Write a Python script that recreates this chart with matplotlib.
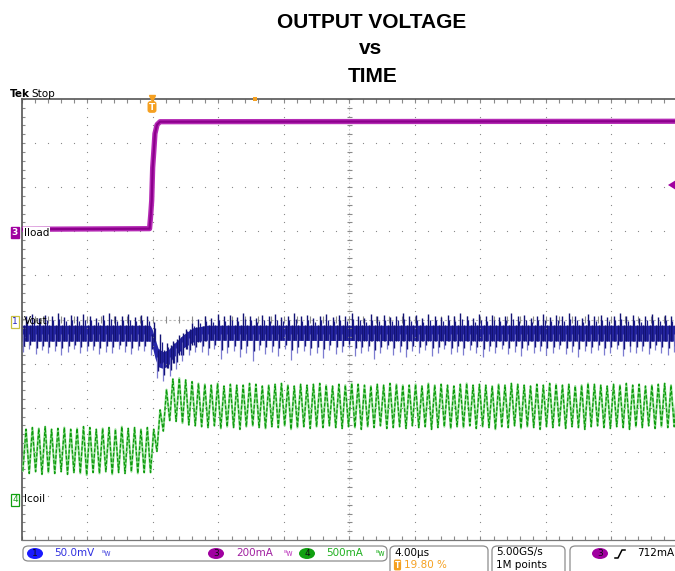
import numpy as np
import matplotlib.pyplot as plt
from matplotlib.patches import FancyBboxPatch, Ellipse

# scope settings
time_div_us = 4.0
trig_pos_pct = 19.80
ch1_scale_mv = 50.0
ch3_scale_a = 0.2
ch4_scale_a = 0.5
ch1_pos_div = -0.05
ch3_pos_div = 1.97
ch4_pos_div = -4.09

# Iload (ch3), amps
iload_t_us = [0.0, 7.79, 7.86, 7.92, 7.98, 8.05, 8.12, 8.25, 8.43, 40.0]
iload_a = [0.015, 0.018, 0.08, 0.145, 0.295, 0.37, 0.449, 0.49, 0.503, 0.505]

# Icoil (ch4), one valley and one peak per switching cycle, amps
sw_period_us = 0.39
sw_first_us = 0.05
icoil_valley_a = [
    0.33, 0.30, 0.32, 0.29, 0.31, 0.30, 0.32, 0.29, 0.31, 0.30,
    0.28, 0.31, 0.30, 0.32, 0.29, 0.31, 0.30, 0.32, 0.30, 0.31,
    0.31, 0.55, 0.78, 0.90, 0.89, 0.87, 0.85, 0.84,
    0.83, 0.82, 0.84, 0.81, 0.83, 0.82, 0.80, 0.83, 0.84, 0.82,
    0.81, 0.83, 0.82, 0.84, 0.80, 0.82, 0.83, 0.81, 0.83, 0.82,
    0.84, 0.82, 0.81, 0.83, 0.82, 0.80, 0.83, 0.82, 0.84, 0.81,
    0.82, 0.83, 0.81, 0.84, 0.82, 0.83, 0.80, 0.82, 0.83, 0.81,
    0.83, 0.82, 0.84, 0.81, 0.83, 0.82, 0.80, 0.83, 0.82, 0.84,
    0.81, 0.83, 0.82, 0.80, 0.83, 0.82, 0.84, 0.81, 0.83, 0.82,
    0.80, 0.83, 0.84, 0.82, 0.81, 0.83, 0.82, 0.80, 0.83, 0.82,
    0.84, 0.81, 0.83, 0.82, 0.83]
icoil_peak_a = [
    0.80, 0.82, 0.81, 0.83, 0.80, 0.81, 0.82, 0.80, 0.81, 0.83,
    0.82, 0.80, 0.81, 0.82, 0.80, 0.83, 0.81, 0.82, 0.80, 0.82,
    0.80, 1.02, 1.25, 1.37, 1.38, 1.36, 1.34, 1.32,
    1.31, 1.30, 1.32, 1.29, 1.31, 1.30, 1.30, 1.32, 1.31, 1.29,
    1.30, 1.31, 1.32, 1.30, 1.29, 1.31, 1.30, 1.31, 1.32, 1.30,
    1.29, 1.31, 1.30, 1.32, 1.31, 1.30, 1.29, 1.31, 1.30, 1.32,
    1.31, 1.30, 1.30, 1.31, 1.29, 1.32, 1.30, 1.31, 1.30, 1.29,
    1.31, 1.32, 1.30, 1.31, 1.30, 1.29, 1.31, 1.30, 1.32, 1.31,
    1.30, 1.29, 1.31, 1.30, 1.32, 1.31, 1.30, 1.31, 1.29, 1.30,
    1.32, 1.31, 1.30, 1.29, 1.31, 1.30, 1.32, 1.30, 1.31, 1.29,
    1.30, 1.31, 1.32, 1.30, 1.31]

# Vout (ch1), noise band and switching spikes, mV
vout_band_t_us = [0.0, 7.82, 7.94, 8.12, 8.31, 8.61, 8.92, 9.22, 9.83, 10.44, 11.30, 40.0]
vout_band_hi_mv = [-4, -4, -8, -19, -30, -34, -32, -26, -15, -7, -4, -4]
vout_band_lo_mv = [-22, -22, -27, -41, -51, -53, -50, -41, -30, -23, -21, -22]
vout_spike_up_mv = [
    6, 9, 4, 8, 7, 10, 5, 8, 6, 9, 7, 4, 8, 10, 6, 7, 9, 5, 8, 6,
    0, -14, -24, -22, -15, -8, -2, 3,
    7, 4, 9, 6, 8, 5, 10, 7, 4, 8,
    6, 9, 5, 7, 10, 6, 8, 4, 7, 9,
    5, 8, 6, 10, 7, 4, 9, 6, 8, 5,
    7, 10, 6, 8, 4, 9, 7, 5, 8, 6,
    10, 7, 4, 9, 6, 8, 5, 7, 10, 6,
    8, 4, 7, 9, 5, 8, 6, 10, 7, 4,
    9, 6, 8, 5, 7, 10, 6, 8, 4, 7,
    9, 5, 8, 6, 7]
vout_spike_dn_mv = [
    -34, -31, -37, -32, -35, -33, -38, -34, -31, -36,
    -33, -32, -37, -34, -35, -31, -34, -37, -32, -33,
    -38, -64, -67, -62, -54, -45, -38, -34,
    -34, -38, -31, -42, -36, -33, -40, -35, -45, -32,
    -37, -34, -39, -31, -43, -36, -33, -38, -35, -41,
    -32, -37, -34, -30, -39, -36, -33, -42, -35, -31,
    -38, -34, -40, -33, -36, -32, -39, -35, -31, -37,
    -34, -38, -32, -36, -40, -33, -35, -31, -37, -34,
    -39, -32, -36, -33, -38, -35, -31, -37, -34, -40,
    -33, -36, -32, -38, -35, -31, -39, -34, -36, -33,
    -37, -32, -35, -38, -34]

W, H = 675, 571
fig = plt.figure(figsize=(W / 100, H / 100), dpi=100)
ax = fig.add_axes([22 / W, 1 - 540 / H, 655 / W, 441 / H])
t_end = 10 * time_div_us
ax.set_xlim(0, t_end)
ax.set_ylim(-5, 5)
ax.axis("off")


def fx(px):
    return px / W


def fy(py):
    return 1 - py / H


def us_at(px):
    return (px - 22) / 655 * t_end


# graticule
dot = dict(ls="none", marker="s", ms=0.8, mew=0, color="#8a8a8a")
ydots = np.arange(-5, 5.01, 0.2)
xdots = np.arange(0, t_end + 0.01, time_div_us / 5)
for k in range(1, 10):
    if k != 5:
        ax.plot(np.full_like(ydots, k * time_div_us), ydots, **dot)
for k in range(-4, 5):
    if k != 0:
        ax.plot(xdots, np.full_like(xdots, k), **dot)
ax.plot([0, t_end], [0, 0], color="#b8b8b8", lw=0.8, ls=(0, (2, 2)))
ax.plot([t_end / 2, t_end / 2], [-5, 5], color="#b8b8b8", lw=0.8, ls=(0, (1, 2)))
ax.hlines(ydots, t_end / 2 - 0.16, t_end / 2 + 0.16, color="#8a8a8a", lw=0.8)
ax.vlines(xdots, -0.07, 0.07, color="#8a8a8a", lw=0.8)
ax.vlines(xdots, 5 - 0.08, 5, color="#8a8a8a", lw=0.8)
ax.vlines(xdots, -5, -5 + 0.08, color="#8a8a8a", lw=0.8)
ax.hlines(ydots, 0, 0.18, color="#8a8a8a", lw=0.8)
ax.plot([0, 0], [-5, 5], color="#555555", lw=1.2, clip_on=False)
ax.plot([0, t_end], [5, 5], color="#555555", lw=1.2, clip_on=False)
ax.plot([0, t_end], [-5, -5], color="#777777", lw=0.9, clip_on=False)

# Icoil
n = len(icoil_peak_a)
t_valley = sw_first_us + sw_period_us * np.arange(n)
t_peak = t_valley + sw_period_us / 2
ic_t = np.column_stack([t_valley, t_peak]).ravel()
ic_v = np.column_stack([icoil_valley_a, icoil_peak_a]).ravel() / ch4_scale_a + ch4_pos_div
ax.plot(ic_t, ic_v, color="#8fdc8f", lw=1.5)
ax.plot(ic_t, ic_v, color="#0e9a0e", lw=0.9, ls=(0, (3, 1.5)))

# Vout
hi = np.array(vout_band_hi_mv) / ch1_scale_mv + ch1_pos_div
lo = np.array(vout_band_lo_mv) / ch1_scale_mv + ch1_pos_div
ax.fill_between(vout_band_t_us, lo, hi, color="#2626a8", lw=0)
up = np.array(vout_spike_up_mv) / ch1_scale_mv + ch1_pos_div
dn = np.array(vout_spike_dn_mv) / ch1_scale_mv + ch1_pos_div
base_hi = np.interp(t_peak, vout_band_t_us, hi)
base_lo = np.interp(t_valley, vout_band_t_us, lo)
ax.vlines(t_valley, dn, base_lo + 0.15, color="#7c7cd0", lw=0.9)
ax.vlines(t_valley + 0.06, (dn + base_lo) / 2, base_hi, color="#141478", lw=1.0)
ax.vlines(t_peak, base_lo, up, color="#121272", lw=1.0)
ax.vlines(t_peak + 0.09, base_lo, (up + base_hi) / 2, color="#1c1c8c", lw=0.9)

# Iload
il = np.array(iload_a) / ch3_scale_a + ch3_pos_div
ax.plot(iload_t_us, il, color="#b42ab4", lw=3.8, solid_capstyle="butt")
ax.plot(iload_t_us, il, color="#8c008c", lw=1.6)

# trigger markers
t_trig = trig_pos_pct / 100 * t_end
ax.plot([t_trig], [5.02], marker="v", ms=4.5, color="#f5a020", clip_on=False)
fig.text(fx(152), fy(107), "T", ha="center", va="center", fontsize=6.5, weight="bold", color="white",
         bbox=dict(boxstyle="round,pad=0.15,rounding_size=0.3", fc="#f5a020", ec="none"))
ax.plot([us_at(255)], [5.0], marker="s", ms=2.2, mew=0, color="#f5a020", clip_on=False)
fig.patches.append(plt.Polygon([[fx(668), fy(185)], [fx(676), fy(180)], [fx(676), fy(190)]],
                               closed=True, fc="#a000a0", ec="none", transform=fig.transFigure))

# channel labels
fig.text(fx(15), fy(232.5), "3", ha="center", va="center", fontsize=6.5, color="white", weight="bold",
         bbox=dict(boxstyle="square,pad=0.12", fc="#a000a0", ec="#a000a0"))
fig.text(fx(24), fy(232.5), "Iload", ha="left", va="center", fontsize=7.5, color="black",
         bbox=dict(boxstyle="square,pad=0.05", fc="white", ec="none"))
fig.text(fx(15), fy(322), "1", ha="center", va="center", fontsize=6.5, color="#2020c0",
         bbox=dict(boxstyle="square,pad=0.12", fc="white", ec="#c8c040", lw=0.9))
fig.text(fx(24), fy(321), "Vout", ha="left", va="center", fontsize=7.5, color="black")
fig.text(fx(15), fy(500), "4", ha="center", va="center", fontsize=6.5, color="#10a010",
         bbox=dict(boxstyle="square,pad=0.12", fc="white", ec="#10a010", lw=0.9))
fig.text(fx(24), fy(499), "Icoil", ha="left", va="center", fontsize=7.5, color="black")

# header
fig.text(fx(10), fy(97), "Tek", ha="left", va="baseline", fontsize=7.5, weight="bold")
fig.text(fx(31), fy(97), "Stop", ha="left", va="baseline", fontsize=7.5)
tf = dict(ha="center", va="baseline", fontsize=15, weight="bold", family="Liberation Sans")
fig.text(fx(372), fy(28.5), "OUTPUT VOLTAGE", **tf)
fig.text(fx(371), fy(54), "vs", **tf)
fig.text(fx(373), fy(82), "TIME", **tf)


# status bar
def box(x0, x1, y0, y1):
    fig.patches.append(FancyBboxPatch((fx(x0), fy(y1)), fx(x1) - fx(x0), fy(y0) - fy(y1),
                                      boxstyle="round,pad=0,rounding_size=0.008", fc="white",
                                      ec="#8c8c8c", lw=0.9, transform=fig.transFigure))


def chip(xc, label, color):
    fig.patches.append(Ellipse((fx(xc), fy(553.5)), 16 / W, 11 / H, fc=color, ec="none",
                               transform=fig.transFigure))
    fig.text(fx(xc), fy(553.5), label, ha="center", va="center", fontsize=6.5, color="#101010")


box(23, 387, 546, 561)
box(390, 488, 546, 580)
box(492, 565, 546, 580)
box(570, 690, 546, 580)
sf = dict(ha="left", va="center", fontsize=7.5)
chip(35, "1", "#1a1aff")
fig.text(fx(54), fy(553.5), "50.0mV", color="#3030e0", **sf)
fig.text(fx(102), fy(553), "ᴮw", color="#5050e0", ha="left", va="center", fontsize=5.5)
chip(216, "3", "#a000a0")
fig.text(fx(236), fy(553.5), "200mA", color="#a020a0", **sf)
fig.text(fx(284), fy(553), "ᴮw", color="#c040c0", ha="left", va="center", fontsize=5.5)
chip(307, "4", "#10a010")
fig.text(fx(326), fy(553.5), "500mA", color="#20b020", **sf)
fig.text(fx(376), fy(553), "ᴮw", color="#20b020", ha="left", va="center", fontsize=5.5)
fig.text(fx(394), fy(552.5), "4.00µs", color="black", **sf)
fig.text(fx(397.5), fy(565), "T", ha="center", va="center", fontsize=5.5, weight="bold", color="white",
         bbox=dict(boxstyle="round,pad=0.12,rounding_size=0.2", fc="#f5a020", ec="none"))
fig.text(fx(404), fy(565), "19.80 %", color="#f5a020", **sf)
fig.text(fx(496), fy(552.5), "5.00GS/s", color="black", **sf)
fig.text(fx(496), fy(565), "1M points", color="black", **sf)
chip(600, "3", "#a000a0")
fig.lines.append(plt.Line2D([fx(615), fx(618), fx(622), fx(625)], [fy(558), fy(558), fy(550), fy(550)],
                            color="black", lw=1.1, transform=fig.transFigure))
fig.text(fx(637), fy(553.5), "712mA", color="black", **sf)

fig.savefig("out.png", dpi=100, facecolor="white")
